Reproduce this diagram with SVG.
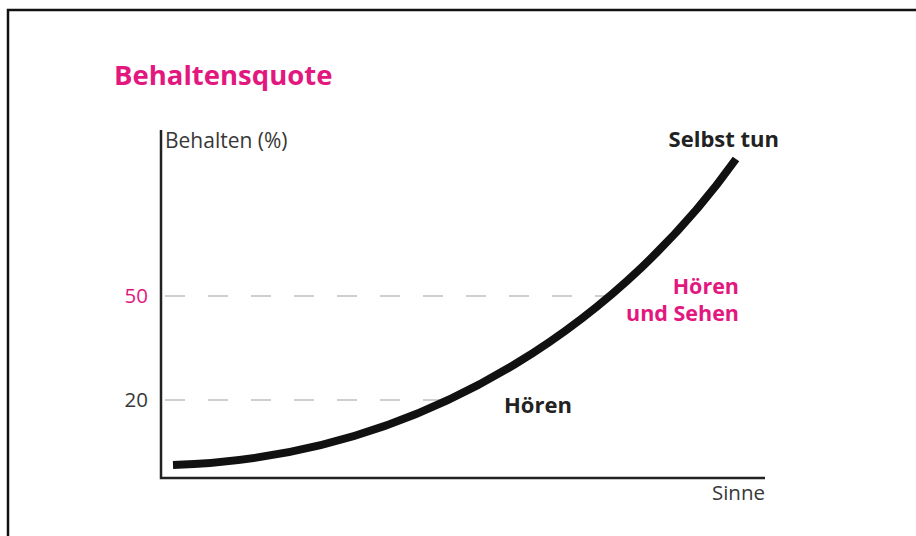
<svg xmlns="http://www.w3.org/2000/svg" width="916" height="536" viewBox="0 0 916 536">
<style>
text{font-family:"Open Sans","Noto Sans","Liberation Sans",sans-serif}
.pink{fill:#e2187f}
.bold{font-weight:bold}
.axis{stroke:#222;stroke-width:2.5;fill:none}
.dash{stroke:#cfcfcf;stroke-width:2;stroke-dasharray:20 23;fill:none}
.lbl{fill:#383838}
.big{font-size:22px}
</style>
<rect width="916" height="536" fill="#fff"/>
<g id="frame">
<path d="M8 536 V10 H916" stroke="#111" stroke-width="2.5" fill="none"/>
</g>
<g id="title"><text x="114" y="85" class="pink bold" font-size="27.5">Behaltensquote</text></g>
<g id="axes">
<path class="axis" d="M161 130 V478 H765"/>
<text x="165" y="148" class="lbl" font-size="21">Behalten (%)</text>
<text x="765" y="500" class="lbl" font-size="20.5" text-anchor="end">Sinne</text>
</g>
<g id="gridlines">
<path class="dash" d="M165 296 H612"/>
<path class="dash" d="M165 400 H448"/>
<text x="148" y="303" font-size="20.5" class="pink" text-anchor="end">50</text>
<text x="148" y="407" font-size="20.5" class="lbl" text-anchor="end">20</text>
</g>
<g id="curve">
<path d="M173 465 C440 457 632 305 736 159" stroke="#111" stroke-width="8" fill="none"/>
</g>
<g id="labels">
<text x="779" y="147" fill="#222" class="bold big" text-anchor="end">Selbst tun</text>
<text x="739" y="294" class="pink bold" font-size="21.5" text-anchor="end">Hören</text>
<text x="739" y="321" class="pink bold" font-size="21.5" text-anchor="end">und Sehen</text>
<text x="504" y="413" fill="#222" class="bold big">Hören</text>
</g>
</svg>
